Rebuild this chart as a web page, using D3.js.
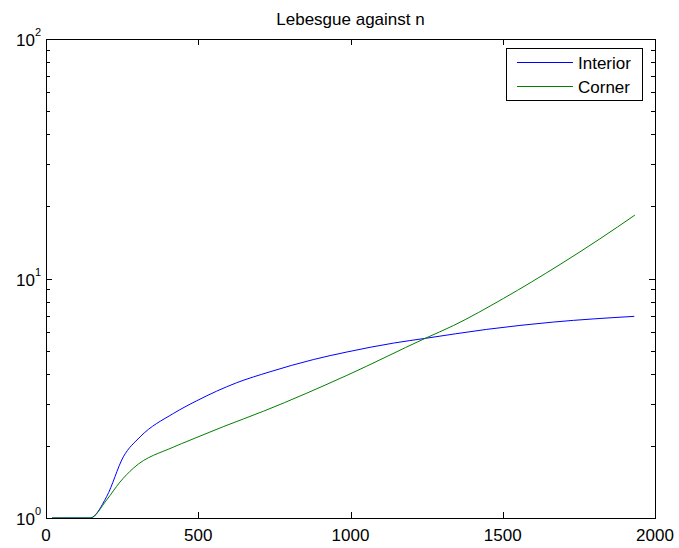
<!DOCTYPE html>
<html>
<head>
<meta charset="utf-8">
<script src="https://cdn.jsdelivr.net/npm/d3@7"></script>
<style>
    body { margin: 0; background: #fff; }
    text { font-family: "Liberation Sans", Arial, sans-serif; fill: #000; }
</style>
</head>
<body>
<svg id="chart"></svg>
<script>
// Values
const interiorN = [20, 145, 199, 254, 309, 418, 495, 626, 736, 878, 988, 1141, 1245, 1447, 1666, 1932];
const interiorVal = [1, 1, 1.227, 1.80, 2.181, 2.73, 3.086, 3.67, 4.08, 4.587, 4.933, 5.374, 5.623, 6.131, 6.578, 6.95];

const cornerN = [20, 145, 199, 243, 287, 418, 473, 582, 714, 988, 1245, 1338, 1502, 1688, 1819, 1934];
const cornerVal = [1, 1, 1.189, 1.413, 1.615, 1.976, 2.113, 2.406, 2.791, 3.94, 5.623, 6.36, 8.25, 11.44, 14.64, 18.4];

const seriesNames = ["Interior", "Corner"];
const seriesColors = ["#0000ff", "#008000"];
const xTicks = [0, 500, 1000, 1500, 2000];
const yDecades = [1, 10, 100];

const config = {
    width: 679,
    height: 548,
    margin: { top: 39, right: 24, bottom: 30, left: 46 }
};

const svg = d3.select("#chart")
    .attr("width", config.width)
    .attr("height", config.height);

const x = d3.scaleLinear()
    .domain([0, 2000])
    .range([config.margin.left, config.width - config.margin.right]);

const y = d3.scaleLog()
    .domain([1, 100])
    .range([config.height - config.margin.bottom, config.margin.top]);

const [x0, x1] = x.range();
const [y0, y1] = y.range();

// Lines
const series = [
    { name: seriesNames[0], n: interiorN, v: interiorVal },
    { name: seriesNames[1], n: cornerN, v: cornerVal }
];

const line = d3.line()
    .x(d => x(d[0]))
    .y(d => y(d[1]))
    .curve(d3.curveMonotoneX);

svg.selectAll(".series")
    .data(series)
    .join("path")
    .attr("class", "series")
    .attr("fill", "none")
    .attr("stroke", (d, i) => seriesColors[i])
    .attr("stroke-width", 1)
    .attr("d", d => line(d3.zip(d.n, d.v)));

// Axes box
svg.append("rect")
    .attr("x", x0 + 0.5)
    .attr("y", y1 + 0.5)
    .attr("width", x1 - x0)
    .attr("height", y0 - y1)
    .attr("fill", "none")
    .attr("stroke", "#000")
    .attr("stroke-width", 1);

// x ticks (bottom and top, inward)
const majorLen = 6, minorLen = 4;
xTicks.forEach(t => {
    const px = Math.round(x(t)) + 0.5;
    svg.append("line").attr("x1", px).attr("x2", px).attr("y1", y0).attr("y2", y0 - majorLen).attr("stroke", "#000");
    svg.append("line").attr("x1", px).attr("x2", px).attr("y1", y1).attr("y2", y1 + majorLen).attr("stroke", "#000");
    svg.append("text")
        .attr("x", x(t))
        .attr("y", y0 + 23)
        .attr("text-anchor", "middle")
        .style("font-size", "17px")
        .text(t);
});

// y ticks: decades and minor ticks
const yMinor = [];
yDecades.slice(0, -1).forEach(d => {
    for (let k = 2; k <= 9; k++) yMinor.push(d * k);
});
yMinor.forEach(t => {
    const py = Math.round(y(t)) + 0.5;
    svg.append("line").attr("x1", x0).attr("x2", x0 + minorLen).attr("y1", py).attr("y2", py).attr("stroke", "#000");
    svg.append("line").attr("x1", x1).attr("x2", x1 - minorLen).attr("y1", py).attr("y2", py).attr("stroke", "#000");
});
yDecades.forEach(t => {
    const py = Math.round(y(t)) + 0.5;
    svg.append("line").attr("x1", x0).attr("x2", x0 + majorLen).attr("y1", py).attr("y2", py).attr("stroke", "#000");
    svg.append("line").attr("x1", x1).attr("x2", x1 - majorLen).attr("y1", py).attr("y2", py).attr("stroke", "#000");
    const label = svg.append("text")
        .attr("x", x0 - 5)
        .attr("y", y(t) + 7)
        .attr("text-anchor", "end")
        .style("font-size", "17px");
    label.append("tspan").text("10");
    label.append("tspan")
        .attr("dy", -10)
        .style("font-size", "11px")
        .text(Math.round(Math.log10(t)));
});

// Title
svg.append("text")
    .attr("x", (x0 + x1) / 2)
    .attr("y", 25)
    .attr("text-anchor", "middle")
    .style("font-size", "17px")
    .text("Lebesgue against n");

// Legend
const legend = svg.append("g").attr("transform", "translate(506,48)");
legend.append("rect")
    .attr("x", 0.5)
    .attr("y", 0.5)
    .attr("width", 136)
    .attr("height", 52)
    .attr("fill", "#fff")
    .attr("stroke", "#000");

const items = legend.selectAll(".item")
    .data(seriesNames)
    .join("g")
    .attr("class", "item")
    .attr("transform", (d, i) => `translate(0,${14.5 + i * 24})`);

items.append("line")
    .attr("x1", 11)
    .attr("x2", 67)
    .attr("stroke", (d, i) => seriesColors[i]);

items.append("text")
    .attr("x", 72)
    .attr("y", 6.5)
    .style("font-size", "17px")
    .text(d => d);
</script>
</body>
</html>
